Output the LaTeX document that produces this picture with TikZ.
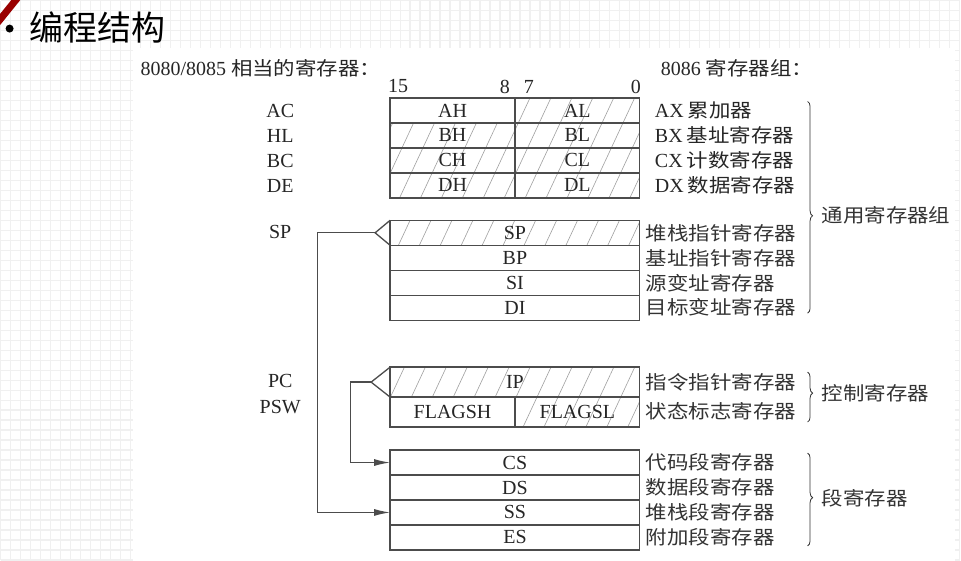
\documentclass[tikz,border=0pt]{standalone}
\usepackage{fontspec}
\setmainfont{Liberation Serif}
\newfontfamily\cjk[FakeStretch=1.13,Scale=0.95]{Noto Sans CJK SC}
\newfontfamily\cjktitle{Noto Sans CJK SC}
\usetikzlibrary{positioning,patterns.meta,decorations.pathreplacing,arrows.meta}

\begin{document}
\begin{tikzpicture}[
    x=1pt, y=-1pt,
    lat/.style={font=\fontsize{20}{22}\selectfont, text=black!85, inner sep=0pt},
    zh/.style={font=\fontsize{20}{22}\selectfont\cjk, text=black!80, inner sep=0pt, anchor=west},
    desc/.style={lat, anchor=west},
    cell/.style={draw=black!70, line width=1.3pt, outer sep=0pt, minimum height=25pt, lat},
    half/.style={cell, minimum width=125pt},
    full/.style={cell, minimum width=250pt},
    hatch/.style={pattern={Lines[angle=65,distance=19pt,line width=0.6pt]}, pattern color=gray!75},
    conn/.style={draw=black!70, line width=1.3pt},
    arr/.style={conn, -{Latex[length=16pt,width=7pt]}},
    brc/.style={draw=black!80, line width=0.8pt, decorate}
  ]
    % Slide background
    \fill[white] (0,0) rectangle (961,560);
    \draw[gray!12, line width=1.2pt, step=10pt] (0,560) grid (961,0);
    \fill[white] (133,47) rectangle (956,561);
    \useasboundingbox (0,0) rectangle (961,560);
    \draw[red!60!black, line width=7pt] (-3,22) -- (18,-4);
    \fill[black] (9,28) circle[radius=4pt];
    \node[font=\fontsize{34}{36}\selectfont\cjktitle, anchor=west, inner sep=0pt] (title) at (29,27) {编程结构};

    % Headings and bit numbers
    \node[desc] (hdrold) at (140,68) {8080/8085 {\cjk 相当的寄存器：}};
    \node[desc] (hdrnew) at (661,68) {8086 {\cjk 寄存器组：}};
    \node[lat] (b15) at (398,86) {15};
    \node[lat] (b8) at (505,86) {8};
    \node[lat] (b7) at (529,86) {7};
    \node[lat] (b0) at (636,86) {0};

    % General registers
    \node[half] (ah) at (452.5,110) {AH};
    \node[half, hatch, right=0pt of ah] (al) {AL};
    \node[half, hatch, below=0pt of ah] (bh) {BH};
    \node[half, hatch, right=0pt of bh] (bl) {BL};
    \node[half, hatch, below=0pt of bh] (ch) {CH};
    \node[half, hatch, right=0pt of ch] (cl) {CL};
    \node[half, hatch, below=0pt of ch] (dh) {DH};
    \node[half, hatch, right=0pt of dh] (dl) {DL};

    \node[full, hatch] (sp) at (515,232.5) {SP};
    \node[full, below=0pt of sp] (bp) {BP};
    \node[full, below=0pt of bp] (si) {SI};
    \node[full, below=0pt of si] (di) {DI};

    % Control registers
    \node[full, hatch, minimum height=30pt] (ip) at (515,382) {IP};
    \node[half, minimum height=30pt, anchor=north west] (flagsh) at (ip.south west) {FLAGSH};
    \node[half, hatch, minimum height=30pt, right=0pt of flagsh] (flagsl) {FLAGSL};

    % Segment registers
    \node[full] (cs) at (515,462.5) {CS};
    \node[full, below=0pt of cs] (ds) {DS};
    \node[full, below=0pt of ds] (ss) {SS};
    \node[full, below=0pt of ss] (es) {ES};

    % 8080/8085 names
    \node[lat] (lac) at (280,111) {AC};
    \node[lat] (lhl) at (280,136) {HL};
    \node[lat] (lbc) at (280,161) {BC};
    \node[lat] (lde) at (280,186) {DE};
    \node[lat] (lsp) at (280,232) {SP};
    \node[lat] (lpc) at (280,381) {PC};
    \node[lat] (lpsw) at (280,407) {PSW};

    % 8086 names
    \node[desc] (dax) at (655,110) {AX\hspace{4pt}{\cjk 累加器}};
    \node[desc] (dbx) at (655,135) {BX\hspace{4pt}{\cjk 基址寄存器}};
    \node[desc] (dcx) at (655,160) {CX\hspace{4pt}{\cjk 计数寄存器}};
    \node[desc] (ddx) at (655,185) {DX\hspace{4pt}{\cjk 数据寄存器}};
    \node[zh] (dsp) at (646,232.5) {堆栈指针寄存器};
    \node[zh] (dbp) at (646,257.5) {基址指针寄存器};
    \node[zh] (dsi) at (646,282.5) {源变址寄存器};
    \node[zh] (ddi) at (646,307.5) {目标变址寄存器};
    \node[zh] (dip) at (646,382) {指令指针寄存器};
    \node[zh] (dfl) at (646,411) {状态标志寄存器};
    \node[zh] (dcs) at (646,462.5) {代码段寄存器};
    \node[zh] (dds) at (646,487.5) {数据段寄存器};
    \node[zh] (dss) at (646,512.5) {堆栈段寄存器};
    \node[zh] (des) at (646,537.5) {附加段寄存器};

    % Braces and group names
    \draw[brc, decoration={brace, amplitude=5pt, aspect=0.54}] (808,101) -- (808,313);
    \draw[brc, decoration={brace, amplitude=5pt, aspect=0.42}] (808,372) -- (808,422);
    \draw[brc, decoration={brace, amplitude=5pt, aspect=0.48}] (808,453) -- (808,546);
    \node[zh] (ggen) at (822,215) {通用寄存器组};
    \node[zh] (gctl) at (822,393) {控制寄存器};
    \node[zh] (gseg) at (822,498) {段寄存器};

    % Pointer connections
    \coordinate (sptip) at (375,232.5);
    \draw[conn] (sp.north west) -- (sptip) -- (sp.south west);
    \draw[arr] (sptip) -- ++(-58,0) |- (ss.west);
    \coordinate (iptip) at (371,382);
    \draw[conn] (ip.north west) -- (iptip) -- (ip.south west);
    \draw[arr] (iptip) -- ++(-21,0) |- (cs.west);
\end{tikzpicture}
\end{document}
